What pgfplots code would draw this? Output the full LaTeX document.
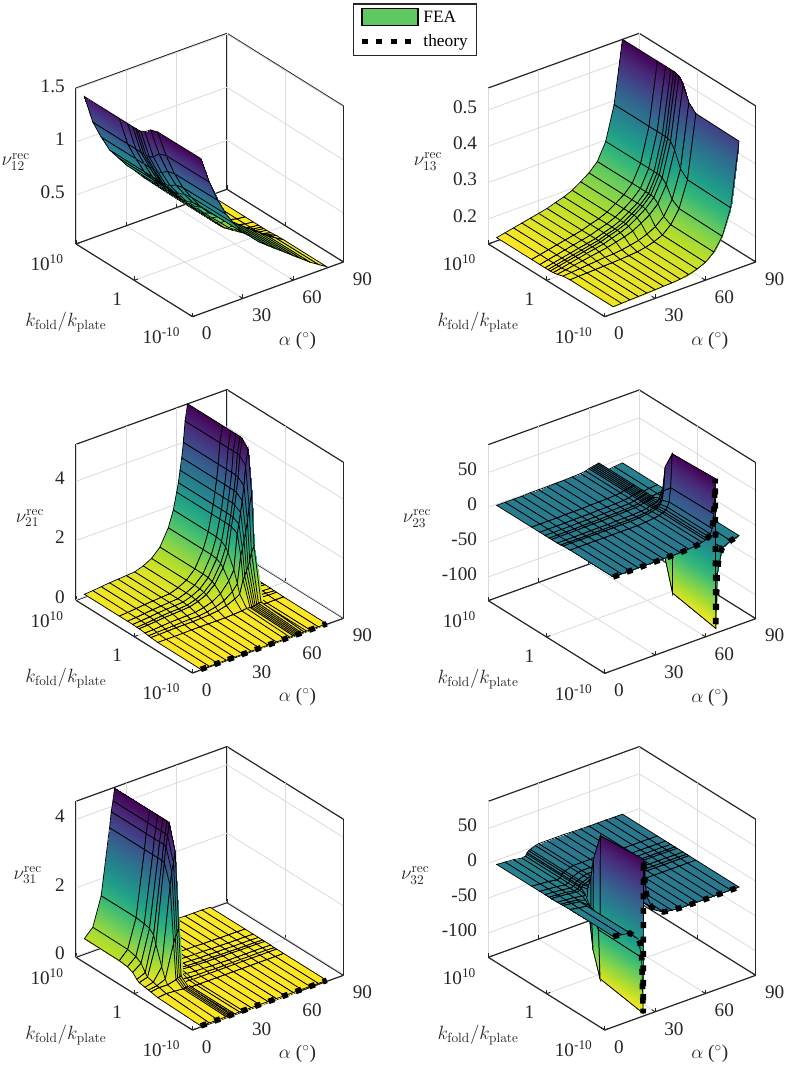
\documentclass[border=0pt]{standalone}
\usepackage{pgfplots}
\usepackage[no-math]{fontspec}
\setmainfont{Liberation Serif}
\pgfplotsset{compat=1.18}
\pgfplotsset{colormap={revv}{rgb255=(253,231,37) rgb255=(181,222,43) rgb255=(110,206,88) rgb255=(53,183,121) rgb255=(31,158,137) rgb255=(38,130,142) rgb255=(49,104,142) rgb255=(62,73,137) rgb255=(72,40,120) rgb255=(68,1,84)}}
\definecolor{axc}{gray}{0.15}
\tikzset{theory/.style={black,line width=4.2pt,dash pattern=on 4.5pt off 6.3pt}}
\pgfplotsset{
 panel/.style={
  anchor=south west,clip=false,
  x={(1.2583pt,0.4558pt)}, y={(-4.369pt,2.726pt)},
  xmin=0,xmax=90,ymin=-10,ymax=10,
  xtick={0,30,60,90},xticklabels={0,30,60,90},
  ytick={-10,0,10},yticklabels={10\textsuperscript{-10},1,10\textsuperscript{10}},
  grid=major, grid style={black!14,line width=0.6pt},
  axis line style={axc,line width=0.9pt},
  tick style={axc,line width=0.7pt},
  major tick length=3pt,
  tick align=inside,
  xtick pos=left,ytick pos=left,ztick pos=left,
  z tick style={draw=none},
  colormap name=revv,
  tick label style={font=\Large,inner sep=0pt,text=axc},
  xticklabel style={anchor=west,xshift=6.75pt,yshift=-12.75pt},
  yticklabel style={anchor=east,xshift=-9pt,yshift=-14.25pt},
  zticklabel style={anchor=east,xshift=-8.25pt,yshift=2.25pt},
  xlabel={$\alpha$ ($^\circ$)}, ylabel={$k_{\mathrm{fold}}/k_{\mathrm{plate}}$},
  every axis x label/.style={at={(axis description cs:0.828,-0.0857)},anchor=center,font=\Large,text=axc},
  every axis y label/.style={at={(axis description cs:-0.0375,-0.019)},anchor=center,font=\Large,text=axc},
 },
 zl/.style={every axis z label/.style={at={(axis description cs:#1,0.546)},anchor=center,font=\Large,text=axc}},
 fea/.style={surf,z buffer=none,shader=faceted interp,faceted color=black,line width=0.55pt,mesh/ordering=x varies},
}
\begin{document}
\begin{tikzpicture}[x=1pt,y=1pt]
\path[use as bounding box] (0,0) rectangle (590.25,801);
% nu12
\begin{axis}[panel,at={(57pt,563.5pt)},z={(0pt,79.5pt)},zmin=0.0375,zmax=1.508,ztick={0.5,1,1.5},zticklabels={0.5,1,1.5},
 zlabel={$\nu_{12}^{\mathrm{rec}}$},zl=-0.225,
 legend style={at={(axis description cs:1.034,1.106)},anchor=north west,draw=axc,line width=0.9pt,font=\fontsize{13}{15}\selectfont,inner xsep=4.5pt,inner ysep=3pt,/tikz/row sep=3.75pt},legend cell align=left]
\addlegendimage{legend image code/.code={\draw[draw=black,fill={rgb,255:red,94;green,201;blue,98},line width=0.8pt] (0pt,-6pt) rectangle (42pt,6.5pt);}}
\addlegendentry{FEA}
\addlegendimage{legend image code/.code={\draw[theory] (0pt,0pt) -- (42pt,0pt);}}
\addlegendentry{theory}
\addplot3[fea,mesh/cols=16] table {
80 10 0.04
75 10 0.05
70 10 0.07
65 10 0.10
60 10 0.15
55 10 0.20
50 10 0.28
45 10 0.36
40 10 0.44
35 10 0.53
30 10 0.61
25 10 0.71
20 10 0.81
15 10 0.96
10 10 1.13
5 10 1.40
80 4 0.04
75 4 0.05
70 4 0.07
65 4 0.10
60 4 0.15
55 4 0.20
50 4 0.28
45 4 0.36
40 4 0.44
35 4 0.53
30 4 0.61
25 4 0.71
20 4 0.81
15 4 0.96
10 4 1.13
5 4 1.40
80 2.6 0.04
75 2.6 0.05
70 2.6 0.07
65 2.6 0.10
60 2.6 0.15
55 2.6 0.20
50 2.6 0.28
45 2.6 0.36
40 2.6 0.44
35 2.6 0.53
30 2.6 0.61
25 2.6 0.71
20 2.6 0.81
15 2.6 0.96
10 2.6 1.13
5 2.6 1.40
80 1.7 0.04
75 1.7 0.05
70 1.7 0.07
65 1.7 0.10
60 1.7 0.15
55 1.7 0.20
50 1.7 0.28
45 1.7 0.36
40 1.7 0.44
35 1.7 0.53
30 1.7 0.61
25 1.7 0.71
20 1.7 0.81
15 1.7 0.96
10 1.7 1.13
5 1.7 1.40
80 1.2 0.04
75 1.2 0.05
70 1.2 0.07
65 1.2 0.10
60 1.2 0.15
55 1.2 0.20
50 1.2 0.28
45 1.2 0.36
40 1.2 0.44
35 1.2 0.53
30 1.2 0.61
25 1.2 0.71
20 1.2 0.81
15 1.2 0.96
10 1.2 1.13
5 1.2 1.40
80 0.8 0.04
75 0.8 0.05
70 0.8 0.07
65 0.8 0.10
60 0.8 0.15
55 0.8 0.20
50 0.8 0.28
45 0.8 0.36
40 0.8 0.44
35 0.8 0.53
30 0.8 0.61
25 0.8 0.71
20 0.8 0.81
15 0.8 0.96
10 0.8 1.13
5 0.8 1.40
80 0.3 0.04
75 0.3 0.052
70 0.3 0.074
65 0.3 0.105
60 0.3 0.156
55 0.3 0.206
50 0.3 0.286
45 0.3 0.364
40 0.3 0.444
35 0.3 0.533
30 0.3 0.613
25 0.3 0.713
20 0.3 0.814
15 0.3 0.964
10 0.3 1.136
5 0.3 1.405
80 -0.4 0.042
75 -0.4 0.062
70 -0.4 0.09
65 -0.4 0.128
60 -0.4 0.18
55 -0.4 0.232
50 -0.4 0.308
45 -0.4 0.382
40 -0.4 0.458
35 -0.4 0.545
30 -0.4 0.622
25 -0.4 0.725
20 -0.4 0.83
15 -0.4 0.982
10 -0.4 1.16
5 -0.4 1.425
80 -1.4 0.048
75 -1.4 0.088
70 -1.4 0.13
65 -1.4 0.182
60 -1.4 0.24
55 -1.4 0.298
50 -1.4 0.362
45 -1.4 0.428
40 -1.4 0.492
35 -1.4 0.575
30 -1.4 0.648
25 -1.4 0.755
20 -1.4 0.87
15 -1.4 1.028
10 -1.4 1.22
5 -1.4 1.475
80 -2.6 0.05
75 -2.6 0.098
70 -2.6 0.148
65 -2.6 0.207
60 -2.6 0.266
55 -2.6 0.326
50 -2.6 0.387
45 -2.6 0.447
40 -2.6 0.508
35 -2.6 0.588
30 -2.6 0.658
25 -2.6 0.768
20 -2.6 0.888
15 -2.6 1.047
10 -2.6 1.246
5 -2.6 1.497
80 -10 0.05
75 -10 0.10
70 -10 0.15
65 -10 0.21
60 -10 0.27
55 -10 0.33
50 -10 0.39
45 -10 0.45
40 -10 0.51
35 -10 0.59
30 -10 0.66
25 -10 0.77
20 -10 0.89
15 -10 1.05
10 -10 1.25
5 -10 1.50
};
\end{axis}
% nu13
\begin{axis}[panel,at={(366.2pt,563.5pt)},z={(0pt,272.7pt)},zmin=0.131,zmax=0.56,ztick={0.2,0.3,0.4,0.5},zticklabels={0.2,0.3,0.4,0.5},
 zlabel={$\nu_{13}^{\mathrm{rec}}$},zl=-0.225]
\addplot3[fea,mesh/cols=16] table {
80 10 0.56
75 10 0.389
70 10 0.296
65 10 0.249
60 10 0.226
55 10 0.21
50 10 0.195
45 10 0.185
40 10 0.178
35 10 0.17
30 10 0.165
25 10 0.16
20 10 0.155
15 10 0.15
10 10 0.145
5 10 0.14
80 4 0.56
75 4 0.389
70 4 0.296
65 4 0.249
60 4 0.226
55 4 0.21
50 4 0.195
45 4 0.185
40 4 0.178
35 4 0.17
30 4 0.165
25 4 0.16
20 4 0.155
15 4 0.15
10 4 0.145
5 4 0.14
80 2.6 0.56
75 2.6 0.389
70 2.6 0.296
65 2.6 0.249
60 2.6 0.226
55 2.6 0.21
50 2.6 0.195
45 2.6 0.185
40 2.6 0.178
35 2.6 0.17
30 2.6 0.165
25 2.6 0.16
20 2.6 0.155
15 2.6 0.15
10 2.6 0.145
5 2.6 0.14
80 1.7 0.56
75 1.7 0.389
70 1.7 0.296
65 1.7 0.249
60 1.7 0.226
55 1.7 0.21
50 1.7 0.195
45 1.7 0.185
40 1.7 0.178
35 1.7 0.17
30 1.7 0.165
25 1.7 0.16
20 1.7 0.155
15 1.7 0.15
10 1.7 0.145
5 1.7 0.14
80 1.2 0.56
75 1.2 0.389
70 1.2 0.296
65 1.2 0.249
60 1.2 0.226
55 1.2 0.21
50 1.2 0.195
45 1.2 0.185
40 1.2 0.178
35 1.2 0.17
30 1.2 0.165
25 1.2 0.16
20 1.2 0.155
15 1.2 0.15
10 1.2 0.145
5 1.2 0.14
80 0.8 0.559
75 0.8 0.388
70 0.8 0.296
65 0.8 0.249
60 0.8 0.226
55 0.8 0.21
50 0.8 0.195
45 0.8 0.185
40 0.8 0.178
35 0.8 0.17
30 0.8 0.165
25 0.8 0.16
20 0.8 0.155
15 0.8 0.15
10 0.8 0.145
5 0.8 0.14
80 0.3 0.556
75 0.3 0.385
70 0.3 0.293
65 0.3 0.247
60 0.3 0.224
55 0.3 0.208
50 0.3 0.193
45 0.3 0.184
40 0.3 0.177
35 0.3 0.169
30 0.3 0.165
25 0.3 0.16
20 0.3 0.155
15 0.3 0.15
10 0.3 0.145
5 0.3 0.141
80 -0.4 0.54
75 -0.4 0.368
70 -0.4 0.281
65 -0.4 0.237
60 -0.4 0.215
55 -0.4 0.2
50 -0.4 0.187
45 -0.4 0.179
40 -0.4 0.173
35 -0.4 0.167
30 -0.4 0.163
25 -0.4 0.159
20 -0.4 0.155
15 -0.4 0.151
10 -0.4 0.147
5 -0.4 0.143
80 -1.4 0.5
75 -1.4 0.326
70 -1.4 0.25
65 -1.4 0.212
60 -1.4 0.192
55 -1.4 0.18
50 -1.4 0.171
45 -1.4 0.166
40 -1.4 0.162
35 -1.4 0.159
30 -1.4 0.158
25 -1.4 0.156
20 -1.4 0.154
15 -1.4 0.152
10 -1.4 0.15
5 -1.4 0.148
80 -2.6 0.482
75 -2.6 0.308
70 -2.6 0.237
65 -2.6 0.201
60 -2.6 0.181
55 -2.6 0.171
50 -2.6 0.164
45 -2.6 0.16
40 -2.6 0.158
35 -2.6 0.156
30 -2.6 0.155
25 -2.6 0.154
20 -2.6 0.153
15 -2.6 0.152
10 -2.6 0.151
5 -2.6 0.15
80 -10 0.48
75 -10 0.305
70 -10 0.235
65 -10 0.20
60 -10 0.18
55 -10 0.17
50 -10 0.163
45 -10 0.159
40 -10 0.157
35 -10 0.156
30 -10 0.155
25 -10 0.154
20 -10 0.153
15 -10 0.152
10 -10 0.151
5 -10 0.15
};
\end{axis}
% nu21
\begin{axis}[panel,at={(57pt,296.25pt)},z={(0pt,22.2pt)},zmin=-0.02,zmax=5.25,ztick={0,2,4},zticklabels={0,2,4},
 zlabel={$\nu_{21}^{\mathrm{rec}}$},zl=-0.172]
\addplot3[fea,mesh/cols=23] table {
80 10 0.02
75 10 0.04
70 10 0.08
68 10 0.15
66.5 10 5.25
65 10 4.7
64 10 4
63 10 3.5
62 10 3.1
61 10 2.7
60 10 2.4
58 10 1.84
55 10 1.3
50 10 0.75
45 10 0.47
40 10 0.32
35 10 0.22
30 10 0.2
25 10 0.18
20 10 0.16
15 10 0.13
10 10 0.1
5 10 0.08
80 4 0.02
75 4 0.04
70 4 0.08
68 4 0.15
66.5 4 5.25
65 4 4.7
64 4 4
63 4 3.5
62 4 3.1
61 4 2.7
60 4 2.4
58 4 1.84
55 4 1.3
50 4 0.75
45 4 0.47
40 4 0.32
35 4 0.22
30 4 0.2
25 4 0.18
20 4 0.16
15 4 0.13
10 4 0.1
5 4 0.08
80 2.6 0.02
75 2.6 0.04
70 2.6 0.08
68 2.6 0.15
66.5 2.6 5.25
65 2.6 4.7
64 2.6 4
63 2.6 3.5
62 2.6 3.1
61 2.6 2.7
60 2.6 2.4
58 2.6 1.84
55 2.6 1.3
50 2.6 0.75
45 2.6 0.47
40 2.6 0.32
35 2.6 0.22
30 2.6 0.2
25 2.6 0.18
20 2.6 0.16
15 2.6 0.13
10 2.6 0.1
5 2.6 0.08
80 1.7 0.02
75 1.7 0.04
70 1.7 0.08
68 1.7 0.15
66.5 1.7 5.25
65 1.7 4.7
64 1.7 4
63 1.7 3.5
62 1.7 3.1
61 1.7 2.7
60 1.7 2.4
58 1.7 1.8
55 1.7 1.27
50 1.7 0.74
45 1.7 0.46
40 1.7 0.31
35 1.7 0.22
30 1.7 0.2
25 1.7 0.18
20 1.7 0.16
15 1.7 0.13
10 1.7 0.1
5 1.7 0.08
80 1 0.02
75 1 0.04
70 1 0.08
68 1 0.15
66.5 1 5.25
65 1 4.7
64 1 4
63 1 3.5
62 1 3.1
61 1 2.7
60 1 2.4
58 1 1.69
55 1 1.2
50 1 0.69
45 1 0.43
40 1 0.29
35 1 0.2
30 1 0.18
25 1 0.17
20 1 0.15
15 1 0.12
10 1 0.09
5 1 0.07
80 0.6 0.02
75 0.6 0.04
70 0.6 0.08
68 0.6 0.15
66.5 0.6 5.22
65 0.6 4.68
64 0.6 3.98
63 0.6 3.48
62 0.6 3.08
61 0.6 2.69
60 0.6 2.39
58 0.6 1.56
55 0.6 1.1
50 0.6 0.64
45 0.6 0.4
40 0.6 0.27
35 0.6 0.19
30 0.6 0.17
25 0.6 0.15
20 0.6 0.14
15 0.6 0.11
10 0.6 0.09
5 0.6 0.07
80 -0.4 0.02
75 -0.4 0.04
70 -0.4 0.08
68 -0.4 0.14
66.5 -0.4 4.99
65 -0.4 4.47
64 -0.4 3.8
63 -0.4 3.33
62 -0.4 2.95
61 -0.4 2.57
60 -0.4 2.28
58 -0.4 1.1
55 -0.4 0.78
50 -0.4 0.45
45 -0.4 0.28
40 -0.4 0.19
35 -0.4 0.13
30 -0.4 0.12
25 -0.4 0.11
20 -0.4 0.1
15 -0.4 0.08
10 -0.4 0.06
5 -0.4 0.05
80 -1 0.01
75 -1 0.03
70 -1 0.05
68 -1 0.1
66.5 -1 3.52
65 -1 3.15
64 -1 2.68
63 -1 2.35
62 -1 2.08
61 -1 1.81
60 -1 1.61
58 -1 0.7
55 -1 0.49
50 -1 0.29
45 -1 0.18
40 -1 0.12
35 -1 0.08
30 -1 0.08
25 -1 0.07
20 -1 0.06
15 -1 0.05
10 -1 0.04
5 -1 0.03
80 -1.4 0.01
75 -1.4 0.01
70 -1.4 0.03
68 -1.4 0.05
66.5 -1.4 1.84
65 -1.4 1.65
64 -1.4 1.4
63 -1.4 1.23
62 -1.4 1.09
61 -1.4 0.95
60 -1.4 0.84
58 -1.4 0.4
55 -1.4 0.29
50 -1.4 0.17
45 -1.4 0.1
40 -1.4 0.07
35 -1.4 0.05
30 -1.4 0.04
25 -1.4 0.04
20 -1.4 0.04
15 -1.4 0.03
10 -1.4 0.02
5 -1.4 0.02
80 -2.6 0
75 -2.6 0
70 -2.6 0
68 -2.6 0
66.5 -2.6 0.1
65 -2.6 0.09
64 -2.6 0.08
63 -2.6 0.07
62 -2.6 0.06
61 -2.6 0.05
60 -2.6 0.05
58 -2.6 0.06
55 -2.6 0.04
50 -2.6 0.02
45 -2.6 0.01
40 -2.6 0.01
35 -2.6 0.01
30 -2.6 0.01
25 -2.6 0.01
20 -2.6 0
15 -2.6 0
10 -2.6 0
5 -2.6 0
80 -10 0
75 -10 0
70 -10 0
68 -10 0
66.5 -10 0
65 -10 0
64 -10 0
63 -10 0
62 -10 0
61 -10 0
60 -10 0
58 -10 0
55 -10 0
50 -10 0
45 -10 0
40 -10 0
35 -10 0
30 -10 0
25 -10 0
20 -10 0
15 -10 0
10 -10 0
5 -10 0
};
\addplot3[theory] table {
5 -10 0
10 -10 0
15 -10 0
20 -10 0
25 -10 0
30 -10 0
35 -10 0
40 -10 0
45 -10 0
50 -10 0
55 -10 0
60 -10 0
65 -10 0
70 -10 0
75 -10 0
80 -10 0
};
\end{axis}
% nu23
\begin{axis}[panel,at={(366.2pt,296pt)},z={(0pt,0.5223pt)},zmin=-134,zmax=90,ztick={-100,-50,0,50},zticklabels={-100,-50,0,50},
 zlabel={$\nu_{23}^{\mathrm{rec}}$},zl=-0.266]
\addplot3[fea,mesh/cols=24] table {
80 10 -6
75 10 -7
70 10 -9
67 10 -11
66.1 10 -14
65.9 10 6
65 10 5.5
64 10 5
63 10 4.5
62 10 4
61 10 3.5
60 10 3
58 10 1.5
55 10 0.5
50 10 0
45 10 -0.5
40 10 -0.5
35 10 -1
30 10 -1
25 10 -1
20 10 -1.5
15 10 -1.5
10 10 -1.5
5 10 -1.5
80 4 -6
75 4 -7
70 4 -9
67 4 -11
66.1 4 -14
65.9 4 6
65 4 5.5
64 4 5
63 4 4.5
62 4 4
61 4 3.5
60 4 3
58 4 1.5
55 4 0.5
50 4 0
45 4 -0.5
40 4 -0.5
35 4 -1
30 4 -1
25 4 -1
20 4 -1.5
15 4 -1.5
10 4 -1.5
5 4 -1.5
80 2.6 -6
75 2.6 -7
70 2.6 -9
67 2.6 -11
66.1 2.6 -14
65.9 2.6 6
65 2.6 5.5
64 2.6 5
63 2.6 4.5
62 2.6 4
61 2.6 3.5
60 2.6 3
58 2.6 1.5
55 2.6 0.5
50 2.6 0
45 2.6 -0.5
40 2.6 -0.5
35 2.6 -1
30 2.6 -1
25 2.6 -1
20 2.6 -1.5
15 2.6 -1.5
10 2.6 -1.5
5 2.6 -1.5
80 1.7 -6
75 1.7 -7
70 1.7 -9
67 1.7 -11
66.1 1.7 -14
65.9 1.7 6
65 1.7 5.5
64 1.7 5
63 1.7 4.5
62 1.7 4
61 1.7 3.5
60 1.7 3
58 1.7 1.5
55 1.7 0.5
50 1.7 0
45 1.7 -0.5
40 1.7 -0.5
35 1.7 -1
30 1.7 -1
25 1.7 -1
20 1.7 -1.5
15 1.7 -1.5
10 1.7 -1.5
5 1.7 -1.5
80 1 -6
75 1 -7
70 1 -9
67 1 -11
66.1 1 -14
65.9 1 6
65 1 5.5
64 1 5
63 1 4.5
62 1 4
61 1 3.5
60 1 3
58 1 1.5
55 1 0.5
50 1 0
45 1 -0.5
40 1 -0.5
35 1 -1
30 1 -1
25 1 -1
20 1 -1.5
15 1 -1.5
10 1 -1.5
5 1 -1.5
80 0.6 -6
75 0.6 -7
70 0.6 -9
67 0.6 -11
66.1 0.6 -14
65.9 0.6 6
65 0.6 5.5
64 0.6 5
63 0.6 4.5
62 0.6 4
61 0.6 3.5
60 0.6 3
58 0.6 1.5
55 0.6 0.5
50 0.6 0
45 0.6 -0.5
40 0.6 -0.5
35 0.6 -1
30 0.6 -1
25 0.6 -1
20 0.6 -1.5
15 0.6 -1.5
10 0.6 -1.5
5 0.6 -1.5
80 -0.4 -6
75 -0.4 -7.1
70 -0.4 -9.3
67 -0.4 -13
66.1 -0.4 -18
65.9 -0.4 10
65 -0.4 7.1
64 -0.4 5.7
63 -0.4 4.8
62 -0.4 4.2
61 -0.4 3.6
60 -0.4 3.1
58 -0.4 1.6
55 -0.4 0.6
50 -0.4 0
45 -0.4 -0.5
40 -0.4 -0.5
35 -0.4 -1
30 -0.4 -1
25 -0.4 -1
20 -0.4 -1.4
15 -0.4 -1.4
10 -0.4 -1.4
5 -0.4 -1.4
80 -1 -6
75 -1 -7.6
70 -1 -10.7
67 -1 -22
66.1 -1 -30
65.9 -1 28
65 -1 14.6
64 -1 8.6
63 -1 6.3
62 -1 5.1
61 -1 4.2
60 -1 3.6
58 -1 2.1
55 -1 0.9
50 -1 0.2
45 -1 -0.4
40 -1 -0.4
35 -1 -0.7
30 -1 -0.7
25 -1 -0.7
20 -1 -1.1
15 -1 -1.1
10 -1 -1.1
5 -1 -1.1
80 -1.4 -6
75 -1.4 -8.3
70 -1.4 -13
67 -1.4 -36
66.1 -1.4 -74
65.9 -1.4 60
65 -1.4 26.6
64 -1.4 13.5
63 -1.4 8.7
62 -1.4 6.6
61 -1.4 5.1
60 -1.4 4.3
58 -1.4 2.8
55 -1.4 1.5
50 -1.4 0.5
45 -1.4 -0.2
40 -1.4 -0.2
35 -1.4 -0.4
30 -1.4 -0.4
25 -1.4 -0.4
20 -1.4 -0.5
15 -1.4 -0.5
10 -1.4 -0.5
5 -1.4 -0.5
80 -2.6 -6
75 -2.6 -9
70 -2.6 -15
67 -2.6 -49
66.1 -2.6 -115
65.9 -2.6 85
65 -2.6 37
64 -2.6 17.6
63 -2.6 10.8
62 -2.6 7.9
61 -2.6 5.9
60 -2.6 4.9
58 -2.6 3.4
55 -2.6 2
50 -2.6 0.8
45 -2.6 0
40 -2.6 0
35 -2.6 0
30 -2.6 0
25 -2.6 0
20 -2.6 0
15 -2.6 0
10 -2.6 0
5 -2.6 0
80 -10 -6
75 -10 -9
70 -10 -15
67 -10 -50
66.1 -10 -127
65.9 -10 88
65 -10 38
64 -10 18
63 -10 11
62 -10 8
61 -10 6
60 -10 5
58 -10 3.5
55 -10 2
50 -10 0.8
45 -10 0
40 -10 0
35 -10 0
30 -10 0
25 -10 0
20 -10 0
15 -10 0
10 -10 0
5 -10 0
};
\addplot3[theory] table {
5 -10 0
15 -10 0
25 -10 0
35 -10 0
45 -10 0
50 -10 0.8
55 -10 2
58 -10 3.5
60 -10 5
62 -10 8
64 -10 18
65 -10 38
65.9 -10 88
66.1 -10 -127
67 -10 -50
68 -10 -28
70 -10 -15
75 -10 -9
80 -10 -6
};
\end{axis}
% nu31
\begin{axis}[panel,at={(57pt,28.5pt)},z={(0pt,25.66pt)},zmin=-0.03,zmax=4.53,ztick={0,2,4},zticklabels={0,2,4},
 zlabel={$\nu_{31}^{\mathrm{rec}}$},zl=-0.18]
\addplot3[fea,mesh/cols=21] table {
80 10 0.01
75 10 0.02
70 10 0.02
65 10 0.02
60 10 0.03
55 10 0.03
50 10 0.04
45 10 0.04
40 10 0.05
35 10 0.06
30 10 0.08
28 10 0.1
25 10 0.18
24 10 0.3
23 10 4.5
22 10 4.15
21 10 3.85
20 10 3.4
15 10 1.5
10 10 0.67
5 10 0.43
80 4 0.01
75 4 0.02
70 4 0.02
65 4 0.02
60 4 0.03
55 4 0.03
50 4 0.04
45 4 0.04
40 4 0.05
35 4 0.06
30 4 0.08
28 4 0.1
25 4 0.18
24 4 0.3
23 4 4.5
22 4 4.15
21 4 3.85
20 4 3.4
15 4 1.5
10 4 0.66
5 4 0.42
80 2.6 0.01
75 2.6 0.02
70 2.6 0.02
65 2.6 0.02
60 2.6 0.03
55 2.6 0.03
50 2.6 0.04
45 2.6 0.04
40 2.6 0.05
35 2.6 0.06
30 2.6 0.08
28 2.6 0.1
25 2.6 0.18
24 2.6 0.3
23 2.6 4.5
22 2.6 4.15
21 2.6 3.85
20 2.6 3.4
15 2.6 1.47
10 2.6 0.6
5 2.6 0.39
80 1.7 0.01
75 1.7 0.02
70 1.7 0.02
65 1.7 0.02
60 1.7 0.03
55 1.7 0.03
50 1.7 0.04
45 1.7 0.04
40 1.7 0.05
35 1.7 0.06
30 1.7 0.08
28 1.7 0.1
25 1.7 0.18
24 1.7 0.3
23 1.7 4.5
22 1.7 4.15
21 1.7 3.85
20 1.7 3.4
15 1.7 1.43
10 1.7 0.5
5 1.7 0.32
80 1 0.01
75 1 0.02
70 1 0.02
65 1 0.02
60 1 0.03
55 1 0.03
50 1 0.04
45 1 0.04
40 1 0.05
35 1 0.06
30 1 0.08
28 1 0.1
25 1 0.18
24 1 0.3
23 1 4.5
22 1 4.15
21 1 3.85
20 1 3.4
15 1 1.31
10 1 0.3
5 1 0.19
80 0.6 0.01
75 0.6 0.02
70 0.6 0.02
65 0.6 0.02
60 0.6 0.03
55 0.6 0.03
50 0.6 0.04
45 0.6 0.04
40 0.6 0.05
35 0.6 0.06
30 0.6 0.08
28 0.6 0.1
25 0.6 0.18
24 0.6 0.3
23 0.6 4.48
22 0.6 4.13
21 0.6 3.83
20 0.6 3.38
15 0.6 1.08
10 0.6 0.21
5 0.6 0.14
80 -0.4 0.01
75 -0.4 0.02
70 -0.4 0.02
65 -0.4 0.02
60 -0.4 0.02
55 -0.4 0.02
50 -0.4 0.03
45 -0.4 0.03
40 -0.4 0.04
35 -0.4 0.05
30 -0.4 0.07
28 -0.4 0.08
25 -0.4 0.15
24 -0.4 0.25
23 -0.4 3.74
22 -0.4 3.44
21 -0.4 3.2
20 -0.4 2.82
15 -0.4 0.53
10 -0.4 0.17
5 -0.4 0.11
80 -1 0
75 -1 0.01
70 -1 0.01
65 -1 0.01
60 -1 0.01
55 -1 0.01
50 -1 0.01
45 -1 0.01
40 -1 0.02
35 -1 0.02
30 -1 0.03
28 -1 0.04
25 -1 0.06
24 -1 0.11
23 -1 1.58
22 -1 1.45
21 -1 1.35
20 -1 1.19
15 -1 0.23
10 -1 0.13
5 -1 0.09
80 -1.4 0
75 -1.4 0
70 -1.4 0
65 -1.4 0
60 -1.4 0
55 -1.4 0
50 -1.4 0
45 -1.4 0
40 -1.4 0
35 -1.4 0
30 -1.4 0
28 -1.4 0.01
25 -1.4 0.01
24 -1.4 0.02
23 -1.4 0.23
22 -1.4 0.21
21 -1.4 0.19
20 -1.4 0.17
15 -1.4 0.11
10 -1.4 0.12
5 -1.4 0.08
80 -2.6 0
75 -2.6 0
70 -2.6 0
65 -2.6 0
60 -2.6 0
55 -2.6 0
50 -2.6 0
45 -2.6 0
40 -2.6 0
35 -2.6 0
30 -2.6 0
28 -2.6 0
25 -2.6 0
24 -2.6 0
23 -2.6 0.05
22 -2.6 0.04
21 -2.6 0.04
20 -2.6 0.03
15 -2.6 0.05
10 -2.6 0.07
5 -2.6 0.04
80 -10 0
75 -10 0
70 -10 0
65 -10 0
60 -10 0
55 -10 0
50 -10 0
45 -10 0
40 -10 0
35 -10 0
30 -10 0
28 -10 0
25 -10 0
24 -10 0
23 -10 0
22 -10 0
21 -10 0
20 -10 0
15 -10 0
10 -10 0
5 -10 0
};
\addplot3[theory] table {
5 -10 0
10 -10 0
15 -10 0
20 -10 0
25 -10 0
30 -10 0
35 -10 0
40 -10 0
45 -10 0
50 -10 0
55 -10 0
60 -10 0
65 -10 0
70 -10 0
75 -10 0
80 -10 0
};
\end{axis}
% nu32
\begin{axis}[panel,at={(366.2pt,28.5pt)},z={(0pt,0.5223pt)},zmin=-135,zmax=89,ztick={-100,-50,0,50},zticklabels={-100,-50,0,50},
 zlabel={$\nu_{32}^{\mathrm{rec}}$},zl=-0.273]
\addplot3[fea,mesh/cols=21] table {
80 10 0.7
75 10 0.8
70 10 1
65 10 1
60 10 1
55 10 1.2
50 10 1.5
45 10 2
40 10 2
35 10 2
30 10 2
28 10 1
25 10 -2
24 10 -3
23.1 10 -5
22.9 10 -7
22 10 -9
20 10 -10
15 10 -8
10 10 -7
5 10 -6
80 4 0.7
75 4 0.8
70 4 1
65 4 1
60 4 1
55 4 1.2
50 4 1.5
45 4 2
40 4 2
35 4 2
30 4 2
28 4 1
25 4 -2
24 4 -3
23.1 4 -5
22.9 4 -7
22 4 -9
20 4 -10
15 4 -8
10 4 -7
5 4 -6
80 2.6 0.7
75 2.6 0.8
70 2.6 1
65 2.6 1
60 2.6 1
55 2.6 1.2
50 2.6 1.5
45 2.6 2
40 2.6 2
35 2.6 2
30 2.6 2
28 2.6 1
25 2.6 -2
24 2.6 -3
23.1 2.6 -5
22.9 2.6 -7
22 2.6 -9
20 2.6 -10
15 2.6 -8
10 2.6 -7
5 2.6 -6
80 1.7 0.7
75 1.7 0.8
70 1.7 1
65 1.7 1
60 1.7 1
55 1.7 1.2
50 1.7 1.5
45 1.7 2
40 1.7 2
35 1.7 2
30 1.7 2
28 1.7 1
25 1.7 -2
24 1.7 -3
23.1 1.7 -5
22.9 1.7 -7
22 1.7 -9
20 1.7 -10
15 1.7 -8
10 1.7 -7
5 1.7 -6
80 1 0.7
75 1 0.8
70 1 1
65 1 1
60 1 1
55 1 1.2
50 1 1.5
45 1 2
40 1 2
35 1 2
30 1 2
28 1 1
25 1 -2
24 1 -3
23.1 1 -5
22.9 1 -7
22 1 -9
20 1 -10
15 1 -8
10 1 -7
5 1 -6
80 0.6 0.7
75 0.6 0.8
70 0.6 1
65 0.6 1
60 0.6 1
55 0.6 1.2
50 0.6 1.5
45 0.6 2
40 0.6 2
35 0.6 2
30 0.6 2
28 0.6 1
25 0.6 -2
24 0.6 -3
23.1 0.6 -5
22.9 0.6 -7
22 0.6 -9
20 0.6 -10
15 0.6 -8
10 0.6 -7
5 0.6 -6
80 -0.4 0.7
75 -0.4 0.8
70 -0.4 1
65 -0.4 1
60 -0.4 1
55 -0.4 1.2
50 -0.4 1.5
45 -0.4 2
40 -0.4 2
35 -0.4 2.1
30 -0.4 2.5
28 -0.4 1.8
25 -0.4 -0.2
24 -0.4 -0.1
23.1 -0.4 -3
22.9 -0.4 -15
22 -0.4 -11
20 -0.4 -10.6
15 -0.4 -8
10 -0.4 -7
5 -0.4 -6
80 -1 0.6
75 -1 0.7
70 -1 0.9
65 -1 0.9
60 -1 0.9
55 -1 1
50 -1 1.3
45 -1 1.7
40 -1 2
35 -1 2.6
30 -1 4.5
28 -1 5.5
25 -1 8
24 -1 13
23.1 -1 18
22.9 -1 -58
22 -1 -20.5
20 -1 -13.4
15 -1 -8.3
10 -1 -7
5 -1 -5.7
80 -1.4 0.6
75 -1.4 0.6
70 -1.4 0.7
65 -1.4 0.7
60 -1.4 0.7
55 -1.4 0.8
50 -1.4 1
45 -1.4 1.4
40 -1.4 2
35 -1.4 3.3
30 -1.4 7.9
28 -1.4 11
25 -1.4 22
24 -1.4 35
23.1 -1.4 45
22.9 -1.4 -85
22 -1.4 -35.6
20 -1.4 -17.8
15 -1.4 -8.7
10 -1.4 -7
5 -1.4 -5.4
80 -2.6 0.5
75 -2.6 0.5
70 -2.6 0.5
65 -2.6 0.5
60 -2.6 0.5
55 -2.6 0.6
50 -2.6 0.8
45 -2.6 1
40 -2.6 2
35 -2.6 3.9
30 -2.6 10.7
28 -2.6 16.5
25 -2.6 34
24 -2.6 53
23.1 -2.6 85
22.9 -2.6 -120
22 -2.6 -48.8
20 -2.6 -21.6
15 -2.6 -9
10 -2.6 -7
5 -2.6 -5
80 -10 0.5
75 -10 0.5
70 -10 0.5
65 -10 0.5
60 -10 0.5
55 -10 0.6
50 -10 0.8
45 -10 1
40 -10 2
35 -10 4
30 -10 11
28 -10 17
25 -10 35
24 -10 55
23.1 -10 90
22.9 -10 -131
22 -10 -50
20 -10 -22
15 -10 -9
10 -10 -7
5 -10 -5
};
\addplot3[theory] table {
5 -10 -5
10 -10 -7
15 -10 -9
20 -10 -22
21 -10 -28
22 -10 -50
22.9 -10 -131
23.1 -10 90
24 -10 55
25 -10 35
26 -10 25
28 -10 17
30 -10 11
35 -10 4
40 -10 2
45 -10 1
50 -10 0.8
55 -10 0.6
60 -10 0.5
70 -10 0.5
80 -10 0.5
};
\end{axis}
\end{tikzpicture}
\end{document}
